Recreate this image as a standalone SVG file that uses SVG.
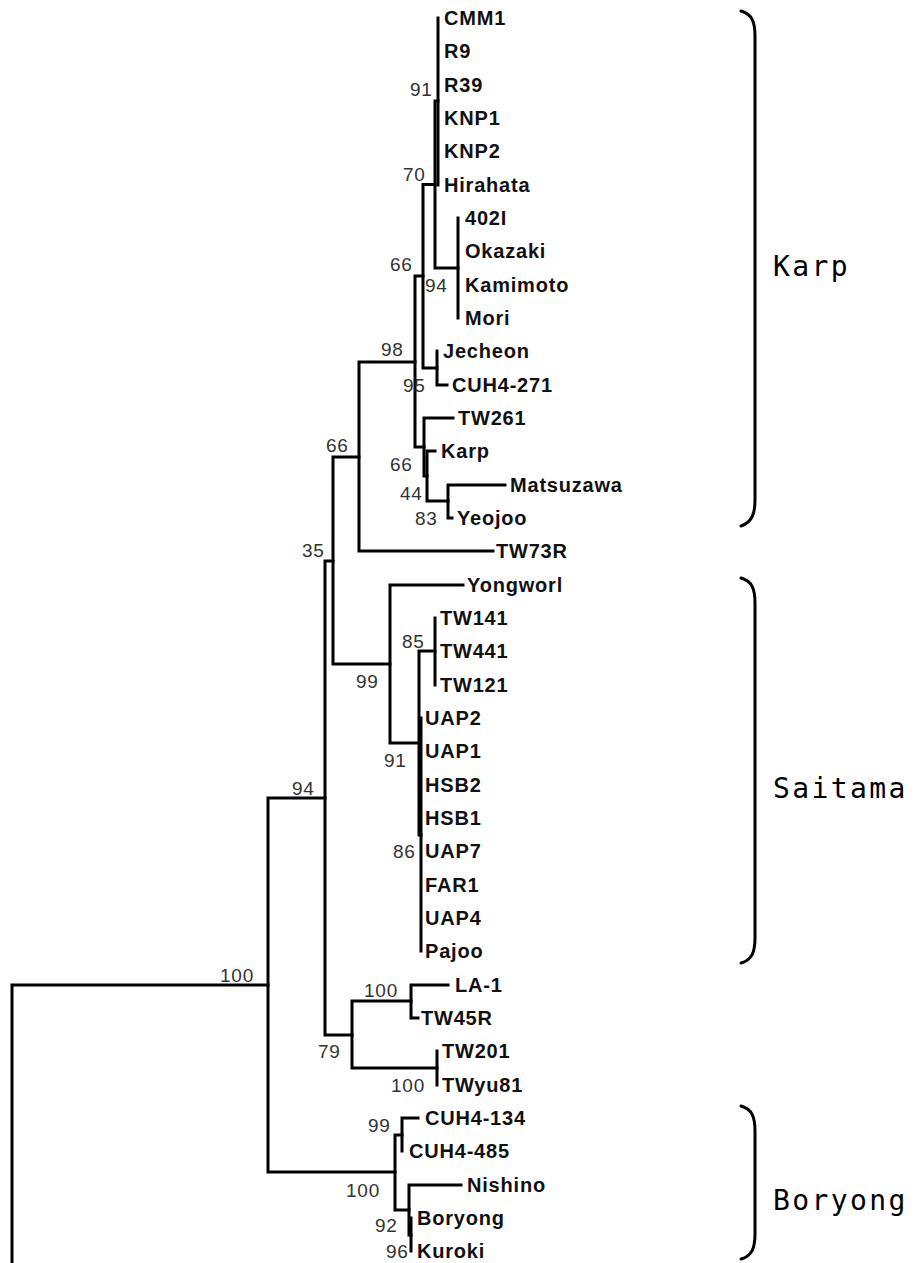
<svg xmlns="http://www.w3.org/2000/svg" width="916" height="1263" viewBox="0 0 916 1263">
<style>
.edge{fill:none;stroke:#000;stroke-width:3;stroke-linecap:square}
.brace{fill:none;stroke:#000;stroke-width:3;stroke-linecap:round}
.leaf{font-family:"Liberation Sans",Arial,sans-serif;font-weight:bold;font-size:20px;letter-spacing:0.8px;fill:#111}
.bs{font-family:"Liberation Sans",Arial,sans-serif;font-size:19px;letter-spacing:0.8px;fill:#333}
.clade{font-family:"DejaVu Sans Mono",monospace;font-size:28px;letter-spacing:2.4px;fill:#000}
</style>
<rect width="916" height="1263" fill="#fff"/>
<g id="connectors">
<path class="edge" d="M438 18V185"/>
<path class="edge" d="M458 218V318"/>
<path class="edge" d="M435 101V268M435 101H438M435 268H458"/>
<path class="edge" d="M437 351V385M437 385H447"/>
<path class="edge" d="M423 184.5V368M423 184.5H435M423 368H437"/>
<path class="edge" d="M448 485V518M448 485H505M448 518H452"/>
<path class="edge" d="M427 451V501M427 451H435M427 501H448"/>
<path class="edge" d="M424 418V476M424 418H453M424 476H427"/>
<path class="edge" d="M415 276V447M415 276H423M415 447H424"/>
<path class="edge" d="M359 362V551M359 362H415M359 551H493"/>
<path class="edge" d="M435 618V685"/>
<path class="edge" d="M421 718V951"/>
<path class="edge" d="M419 651V835M419 651H435M419 835H421"/>
<path class="edge" d="M390 585V743M390 585H463M390 743H419"/>
<path class="edge" d="M333 457V664M333 457H359M333 664H390"/>
<path class="edge" d="M411 985V1018M411 985H448M411 1018H418"/>
<path class="edge" d="M437 1051V1085"/>
<path class="edge" d="M352 1001V1068M352 1001H411M352 1068H437"/>
<path class="edge" d="M325 561V1035M325 561H333M325 1035H352"/>
<path class="edge" d="M402 1118V1151M402 1118H418"/>
<path class="edge" d="M411 1218V1251"/>
<path class="edge" d="M409 1185V1235M409 1185H461M409 1235H411"/>
<path class="edge" d="M395 1135V1210M395 1135H402M395 1210H409"/>
<path class="edge" d="M268 798V1172M268 798H325M268 1172H395"/>
<path class="edge" d="M12 985V1265M12 985H268"/>
</g>
<g id="leaves">
<g id="n-CMM1"><text class="leaf" x="444" y="25">CMM1</text></g>
<g id="n-R9"><text class="leaf" x="444" y="58">R9</text></g>
<g id="n-R39"><text class="leaf" x="444" y="92">R39</text></g>
<g id="n-KNP1"><text class="leaf" x="444" y="125">KNP1</text></g>
<g id="n-KNP2"><text class="leaf" x="444" y="158">KNP2</text></g>
<g id="n-Hirahata"><text class="leaf" x="444" y="192">Hirahata</text></g>
<g id="n-402I"><text class="leaf" x="465" y="225">402I</text></g>
<g id="n-Okazaki"><text class="leaf" x="465" y="258">Okazaki</text></g>
<g id="n-Kamimoto"><text class="leaf" x="465" y="292">Kamimoto</text></g>
<g id="n-Mori"><text class="leaf" x="465" y="325">Mori</text></g>
<g id="n-Jecheon"><text class="leaf" x="443" y="358">Jecheon</text></g>
<g id="n-CUH4-271"><text class="leaf" x="452" y="392">CUH4-271</text></g>
<g id="n-TW261"><text class="leaf" x="458" y="425">TW261</text></g>
<g id="n-Karp"><text class="leaf" x="441" y="458">Karp</text></g>
<g id="n-Matsuzawa"><text class="leaf" x="510" y="492">Matsuzawa</text></g>
<g id="n-Yeojoo"><text class="leaf" x="457" y="525">Yeojoo</text></g>
<g id="n-TW73R"><text class="leaf" x="496" y="558">TW73R</text></g>
<g id="n-Yongworl"><text class="leaf" x="467" y="592">Yongworl</text></g>
<g id="n-TW141"><text class="leaf" x="440" y="625">TW141</text></g>
<g id="n-TW441"><text class="leaf" x="440" y="658">TW441</text></g>
<g id="n-TW121"><text class="leaf" x="440" y="692">TW121</text></g>
<g id="n-UAP2"><text class="leaf" x="425" y="725">UAP2</text></g>
<g id="n-UAP1"><text class="leaf" x="425" y="758">UAP1</text></g>
<g id="n-HSB2"><text class="leaf" x="425" y="792">HSB2</text></g>
<g id="n-HSB1"><text class="leaf" x="425" y="825">HSB1</text></g>
<g id="n-UAP7"><text class="leaf" x="425" y="858">UAP7</text></g>
<g id="n-FAR1"><text class="leaf" x="425" y="892">FAR1</text></g>
<g id="n-UAP4"><text class="leaf" x="425" y="925">UAP4</text></g>
<g id="n-Pajoo"><text class="leaf" x="425" y="958">Pajoo</text></g>
<g id="n-LA-1"><text class="leaf" x="455" y="992">LA-1</text></g>
<g id="n-TW45R"><text class="leaf" x="421" y="1025">TW45R</text></g>
<g id="n-TW201"><text class="leaf" x="442" y="1058">TW201</text></g>
<g id="n-TWyu81"><text class="leaf" x="442" y="1092">TWyu81</text></g>
<g id="n-CUH4-134"><text class="leaf" x="425" y="1125">CUH4-134</text></g>
<g id="n-CUH4-485"><text class="leaf" x="409" y="1158">CUH4-485</text></g>
<g id="n-Nishino"><text class="leaf" x="467" y="1192">Nishino</text></g>
<g id="n-Boryong"><text class="leaf" x="417" y="1225">Boryong</text></g>
<g id="n-Kuroki"><text class="leaf" x="417" y="1258">Kuroki</text></g>
</g>
<g id="bootstrap">
<text class="bs" x="410" y="96">91</text>
<text class="bs" x="403" y="181">70</text>
<text class="bs" x="390" y="271">66</text>
<text class="bs" x="425" y="292">94</text>
<text class="bs" x="381" y="356">98</text>
<text class="bs" x="403" y="392">95</text>
<text class="bs" x="326" y="452">66</text>
<text class="bs" x="390" y="471">66</text>
<text class="bs" x="400" y="500">44</text>
<text class="bs" x="415" y="525">83</text>
<text class="bs" x="302" y="557">35</text>
<text class="bs" x="402" y="648">85</text>
<text class="bs" x="356" y="688">99</text>
<text class="bs" x="384" y="767">91</text>
<text class="bs" x="393" y="858">86</text>
<text class="bs" x="292" y="795">94</text>
<text class="bs" x="220" y="982">100</text>
<text class="bs" x="364" y="997">100</text>
<text class="bs" x="318" y="1058">79</text>
<text class="bs" x="391" y="1092">100</text>
<text class="bs" x="368" y="1132">99</text>
<text class="bs" x="346" y="1197">100</text>
<text class="bs" x="375" y="1232">92</text>
<text class="bs" x="386" y="1258">96</text>
</g>
<g id="clade-Karp">
<path class="brace" d="M741 11C752 14 755 22 755 36L755 500C755 514 752 522 741 526"/>
<text class="clade" x="773" y="276">Karp</text>
</g>
<g id="clade-Saitama">
<path class="brace" d="M741 578C752 581 755 589 755 603L755 938C755 952 752 960 741 963"/>
<text class="clade" x="773" y="798">Saitama</text>
</g>
<g id="clade-Boryong">
<path class="brace" d="M741 1106C752 1109 755 1117 755 1131L755 1234C755 1248 752 1256 741 1259"/>
<text class="clade" x="773" y="1210">Boryong</text>
</g>
</svg>
